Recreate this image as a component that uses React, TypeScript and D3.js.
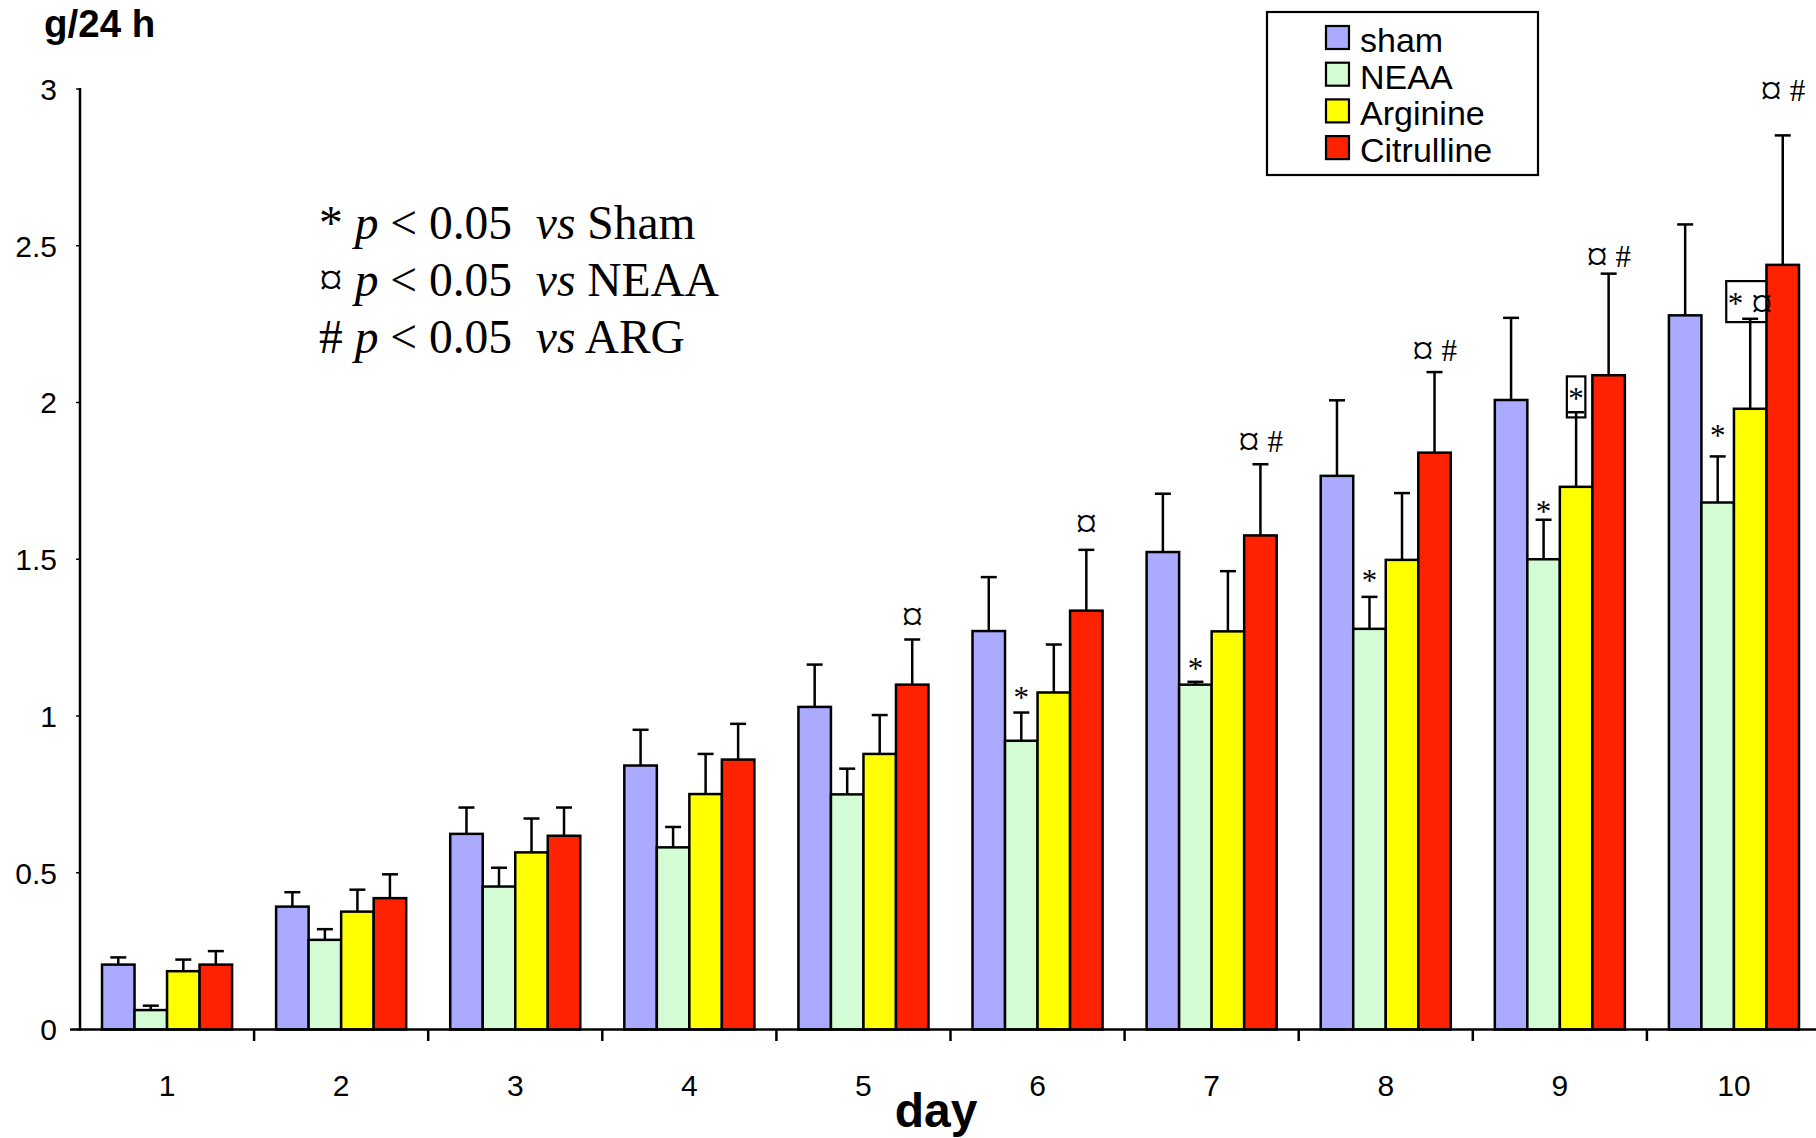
import React from 'react';
import * as d3 from 'd3';

const days = ['1', '2', '3', '4', '5', '6', '7', '8', '9', '10'];
const seriesNames = ['sham', 'NEAA', 'Arginine', 'Citrulline'];
const seriesColors = ['#aaaaff', '#d4fcd4', '#ffff00', '#ff2200'];

const sham = [0.207, 0.392, 0.624, 0.842, 1.029, 1.271, 1.523, 1.766, 2.008, 2.278];
const shamSem = [0.023, 0.046, 0.084, 0.114, 0.135, 0.172, 0.186, 0.241, 0.262, 0.290];
const neaa = [0.062, 0.286, 0.456, 0.581, 0.750, 0.921, 1.100, 1.278, 1.500, 1.681];
const neaaSem = [0.014, 0.034, 0.060, 0.065, 0.082, 0.090, 0.009, 0.102, 0.126, 0.147];
const arginine = [0.186, 0.376, 0.565, 0.751, 0.879, 1.075, 1.270, 1.498, 1.731, 1.980];
const arginineSem = [0.037, 0.070, 0.108, 0.128, 0.124, 0.153, 0.192, 0.213, 0.238, 0.287];
const citrulline = [0.207, 0.419, 0.618, 0.861, 1.100, 1.336, 1.576, 1.840, 2.087, 2.439];
const citrullineSem = [0.043, 0.076, 0.090, 0.114, 0.144, 0.194, 0.227, 0.257, 0.324, 0.413];

const yTicks = [0, 0.5, 1, 1.5, 2, 2.5, 3];
const yTickLabels = ['0', '0.5', '1', '1.5', '2', '2.5', '3'];

// significance marks: day, series, label, baseline level (in g/24 h units), boxed
const marks = [
  { day: '5', series: 'Citrulline', label: '¤', level: 1.285, boxed: false },
  { day: '6', series: 'NEAA', label: '*', level: 1.025, boxed: false },
  { day: '6', series: 'Citrulline', label: '¤', level: 1.582, boxed: false },
  { day: '7', series: 'NEAA', label: '*', level: 1.117, boxed: false },
  { day: '7', series: 'Citrulline', label: '¤ #', level: 1.842, boxed: false },
  { day: '8', series: 'NEAA', label: '*', level: 1.398, boxed: false },
  { day: '8', series: 'Citrulline', label: '¤ #', level: 2.133, boxed: false },
  { day: '9', series: 'NEAA', label: '*', level: 1.618, boxed: false },
  { day: '9', series: 'Arginine', label: '*', level: 1.978, boxed: true },
  { day: '9', series: 'Citrulline', label: '¤ #', level: 2.433, boxed: false },
  { day: '10', series: 'NEAA', label: '*', level: 1.860, boxed: false },
  { day: '10', series: 'Arginine', label: '* ¤', level: 2.282, boxed: true },
  { day: '10', series: 'Citrulline', label: '¤ #', level: 2.962, boxed: false },
];

const footSymbols = ['*', '¤', '#'];
const footGroups = ['Sham', 'NEAA', 'ARG'];

const yTitle = 'g/24 h';
const xTitle = 'day';

const W = 1816;
const H = 1138;
const SANS = '"Liberation Sans", Arial, sans-serif';
const SERIF = '"Liberation Serif", "Times New Roman", serif';

const glyphW: Record<string, number> = { '*': 0.5, ' ': 0.25, '¤': 0.5, '#': 0.5 };
const glyphScale: Record<string, number> = { '*': 1, ' ': 1, '¤': 1.4, '#': 1 };

export default function App() {
  const values = [sham, neaa, arginine, citrulline];
  const sems = [shamSem, neaaSem, arginineSem, citrullineSem];

  const x0 = d3.scaleBand<string>().domain(days).range([80, 1821]).paddingInner(0).paddingOuter(0);
  const x1 = d3
    .scaleBand<string>()
    .domain(seriesNames)
    .range([0, x0.bandwidth()])
    .paddingInner(0)
    .paddingOuter(0.677);
  const y = d3.scaleLinear().domain([0, 3]).range([1029.5, 89]);

  const markFs = 31;
  const capW = 16;
  const labelWidth = (l: string) =>
    l.split('').reduce((a, c) => a + (glyphW[c] || 0.5) * (glyphScale[c] || 1), 0) * markFs;

  return (
    <svg
      width={W}
      height={H}
      viewBox={`0 0 ${W} ${H}`}
      style={{ position: 'absolute', left: 0, top: 0, background: '#fff' }}
    >
      <rect x={0} y={0} width={W} height={H} fill="#fff" />

      {/* y title */}
      <text x={44} y={37} fontFamily={SANS} fontWeight="bold" fontSize={38.5} fill="#000">
        {yTitle}
      </text>

      {/* footnotes */}
      {footSymbols.map((s, i) => (
        <text
          key={s}
          x={319}
          y={239 + i * 57}
          fontFamily={SERIF}
          fontSize={47.5}
          fill="#000"
          style={{ whiteSpace: 'pre' }}
        >
          <tspan>{s + ' '}</tspan>
          <tspan fontStyle="italic">p</tspan>
          <tspan>{' < 0.05  '}</tspan>
          <tspan fontStyle="italic">vs</tspan>
          <tspan>{' ' + footGroups[i]}</tspan>
        </text>
      ))}

      {/* boxes behind annotations */}
      {marks
        .filter((m) => m.boxed)
        .map((m, i) => {
          const cx = (x0(m.day) as number) + (x1(m.series) as number) + x1.bandwidth() / 2;
          const bw = labelWidth(m.label) + 3;
          const by = y(m.level);
          return (
            <rect
              key={'box' + i}
              x={cx - bw / 2}
              y={by - 33}
              width={bw}
              height={41}
              fill="#fff"
              stroke="#000"
              strokeWidth={2.2}
            />
          );
        })}

      {/* bars */}
      {days.map((d, di) => (
        <g key={d} transform={`translate(${x0(d)},0)`}>
          {seriesNames.map((s, si) => {
            const v = values[si][di];
            return (
              <rect
                key={s}
                x={x1(s)}
                y={y(v)}
                width={x1.bandwidth()}
                height={y(0) - y(v)}
                fill={seriesColors[si]}
                stroke="#000"
                strokeWidth={2.5}
              />
            );
          })}
          {seriesNames.map((s, si) => {
            const v = values[si][di];
            const e = sems[si][di];
            const cx = (x1(s) as number) + x1.bandwidth() / 2;
            return (
              <g key={'e' + s} stroke="#000" strokeWidth={2.5}>
                <line x1={cx} x2={cx} y1={y(v)} y2={y(v + e)} />
                <line x1={cx - capW / 2} x2={cx + capW / 2} y1={y(v + e)} y2={y(v + e)} />
              </g>
            );
          })}
        </g>
      ))}

      {/* axes */}
      <line x1={80} x2={80} y1={88} y2={1030.5} stroke="#000" strokeWidth={2.5} />
      <line x1={70} x2={W} y1={1029.5} y2={1029.5} stroke="#000" strokeWidth={2.5} />
      {yTicks.map((t, i) => (
        <g key={'yt' + t}>
          <line x1={76} x2={80} y1={y(t)} y2={y(t)} stroke="#000" strokeWidth={1.5} />
          <text
            x={57}
            y={y(t)}
            dy="0.36em"
            textAnchor="end"
            fontFamily={SANS}
            fontSize={30}
            fill="#000"
          >
            {yTickLabels[i]}
          </text>
        </g>
      ))}
      {days.slice(1).map((d) => (
        <line
          key={'xt' + d}
          x1={x0(d)}
          x2={x0(d)}
          y1={1029.5}
          y2={1041}
          stroke="#000"
          strokeWidth={2.5}
        />
      ))}
      {days.map((d) => (
        <text
          key={'xl' + d}
          x={(x0(d) as number) + x0.bandwidth() / 2}
          y={1096}
          textAnchor="middle"
          fontFamily={SANS}
          fontSize={30}
          fill="#000"
        >
          {d}
        </text>
      ))}
      <text x={936} y={1127} textAnchor="middle" fontFamily={SANS} fontWeight="bold" fontSize={48} fill="#000">
        {xTitle}
      </text>

      {/* significance marks */}
      {marks.map((m, i) => {
        const cx = (x0(m.day) as number) + (x1(m.series) as number) + x1.bandwidth() / 2;
        const chars = m.label.split('');
        return (
          <text
            key={'m' + i}
            x={cx}
            y={y(m.level)}
            textAnchor="middle"
            fontFamily={SERIF}
            fontSize={markFs}
            fill="#000"
            style={{ whiteSpace: 'pre' }}
          >
            {chars.map((c, ci) => {
              const big = c === '¤';
              const prevBig = ci > 0 && chars[ci - 1] === '¤';
              const dy = (big ? 4 : 0) - (prevBig ? 4 : 0);
              return (
                <tspan key={ci} fontSize={markFs * (glyphScale[c] || 1)} dy={dy}>
                  {c}
                </tspan>
              );
            })}
          </text>
        );
      })}

      {/* legend */}
      <rect x={1267} y={12} width={271} height={163} fill="#fff" stroke="#000" strokeWidth={2.2} />
      {seriesNames.map((s, i) => {
        const cy = 37 + i * 36.7;
        return (
          <g key={'lg' + s}>
            <rect x={1326} y={cy - 11} width={23} height={23} fill={seriesColors[i]} stroke="#000" strokeWidth={2.2} />
            <text x={1360} y={cy + 15} fontFamily={SANS} fontSize={34} fill="#000">
              {s}
            </text>
          </g>
        );
      })}
    </svg>
  );
}
